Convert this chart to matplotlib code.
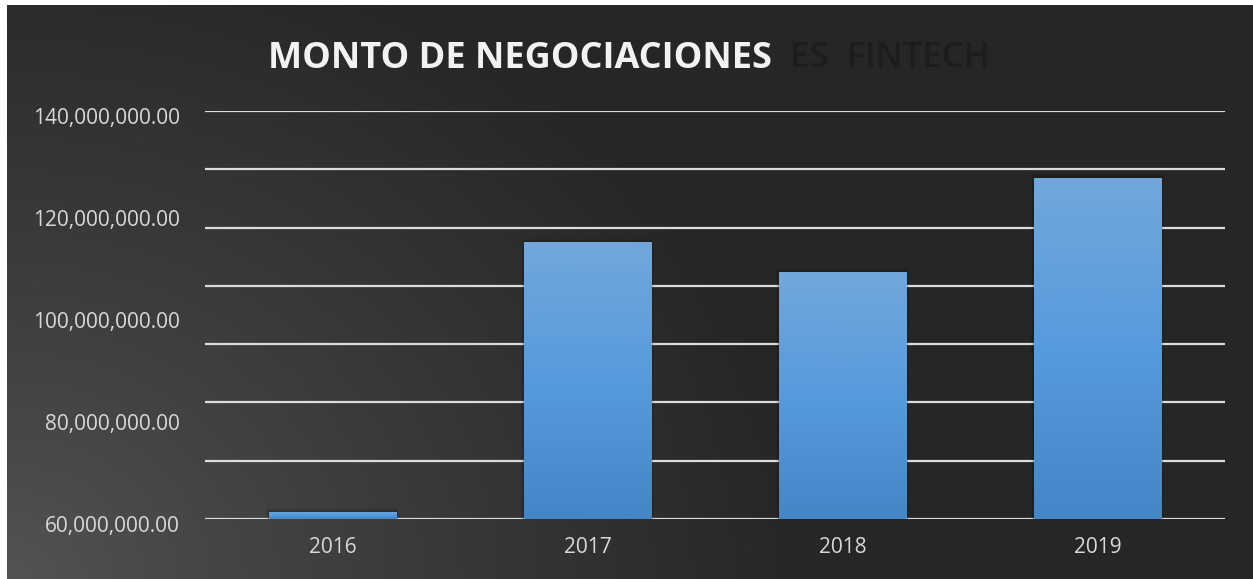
import numpy as np
import matplotlib.pyplot as plt
from matplotlib.patches import Rectangle
from matplotlib import transforms

years = ['2016', '2017', '2018', '2019']
montos = [61.4e6, 114.3e6, 108.4e6, 126.9e6]
ticks = [60e6, 80e6, 100e6, 120e6, 140e6]
grid_lines = np.linspace(60e6, 140e6, 8)

W, H = 1253, 579
fig = plt.figure(figsize=(W / 100, H / 100), dpi=100)
fig.patch.set_facecolor('white')

# dark background, lighter towards the lower left corner
bg = fig.add_axes([7 / W, 0, 1 - 7 / W, 1 - 5 / H], zorder=0)
bg.axis('off')
yy, xx = np.mgrid[0:574, 0:1246]
d = np.sqrt((xx / 1.0) ** 2 + ((573 - yy) * 1.2) ** 2)
t = np.clip(d / 800, 0, 1) ** 0.85
shade = 0.33 - (0.33 - 0.15) * t
bg.imshow(np.dstack([shade] * 3), aspect='auto', extent=[0, 1, 0, 1])
bg.set_xlim(0, 1)
bg.set_ylim(0, 1)

ax = fig.add_axes([205 / W, (H - 519) / H, 1020 / W, 408 / H], zorder=1)
ax.patch.set_alpha(0)
for g in grid_lines:
    ax.axhline(g, color='#dcdcdc', lw=1.6, zorder=1)

x = np.arange(len(years))
bars = ax.bar(x, np.array(montos) - 60e6, bottom=60e6, width=0.5,
              color='none', zorder=3)

grad = np.linspace(0, 1, 256).reshape(-1, 1, 1)
top_c = np.array([0x72, 0xa7, 0xdc]) / 255
mid_c = np.array([0x56, 0x9b, 0xdc]) / 255
bot_c = np.array([0x44, 0x86, 0xc6]) / 255
cols = np.where(grad < 0.5,
                top_c + (mid_c - top_c) * (grad / 0.5),
                mid_c + (bot_c - mid_c) * ((grad - 0.5) / 0.5))
for b in bars:
    x0, y0 = b.get_x(), b.get_y()
    w, h = b.get_width(), b.get_height()
    # soft shadow around each bar
    for k, a in [(0.012, 0.06), (0.007, 0.08), (0.003, 0.1)]:
        ax.add_patch(Rectangle((x0 - k, y0), w + 2 * k, h + k * 80e6 / 1.2,
                               color='black', alpha=a, zorder=2, lw=0))
    im = ax.imshow(cols, extent=[x0, x0 + w, y0, y0 + h], aspect='auto',
                   zorder=3)
    im.set_clip_path(b)
ax.set_xlim(-0.5, 3.5)
ax.set_ylim(60e6, 140e6)

ax.set_xticks(x)
ax.set_xticklabels(years)
ax.set_yticks(ticks)
ax.set_yticklabels([f'{v:,.2f}' for v in ticks])
ax.tick_params(length=0, colors='#d9d9d9', labelsize=15, pad=18)
ax.tick_params(axis='x', pad=13)
for lbl in ax.get_xticklabels() + ax.get_yticklabels():
    lbl.set_fontfamily('Open Sans')
off = transforms.ScaledTranslation(0, -5 / 100, fig.dpi_scale_trans)
for lbl in ax.get_yticklabels():
    lbl.set_transform(lbl.get_transform() + off)
for s in ax.spines.values():
    s.set_visible(False)

# faded title text behind, then the main title
fig.text(990 / W, 1 - 58 / H, 'ES  FINTECH', color='#1d1d1d',
         fontsize=25, fontfamily='Open Sans', fontweight='semibold',
         ha='right', va='center', zorder=2)
fig.text(268 / W, 1 - 59 / H, 'MONTO DE NEGOCIACIONES', color='#f2f2f2',
         fontsize=26, fontweight='bold', fontfamily='Open Sans',
         ha='left', va='center', zorder=3)

fig.savefig('out.png', dpi=100)
